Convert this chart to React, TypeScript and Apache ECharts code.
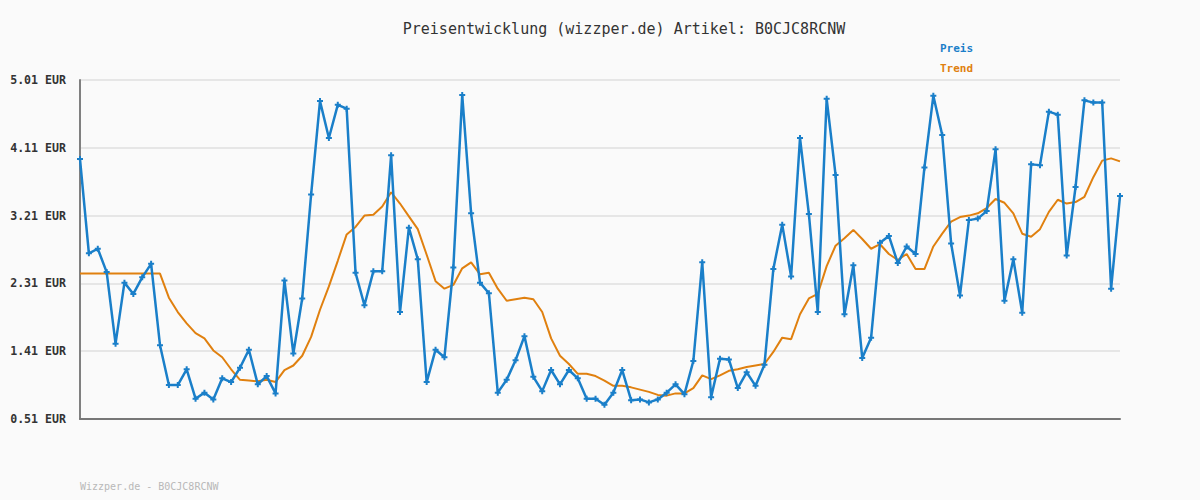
import React, { useEffect, useRef } from "react";
import * as echarts from "echarts";

const preis: number[] = [
  3.96, 2.71, 2.77, 2.46, 1.51, 2.32, 2.17, 2.39, 2.57, 1.49,
  0.96, 0.96, 1.17, 0.78, 0.86, 0.77, 1.05, 1.0, 1.19, 1.43,
  0.97, 1.08, 0.85, 2.35, 1.38, 2.11, 3.49, 4.73, 4.24, 4.68,
  4.63, 2.45, 2.02, 2.47, 2.47, 4.01, 1.93, 3.05, 2.63, 1.0,
  1.43, 1.33, 2.52, 4.81, 3.24, 2.32, 2.18, 0.86, 1.03, 1.29,
  1.61, 1.07, 0.88, 1.16, 0.97, 1.16, 1.05, 0.78, 0.78, 0.7,
  0.86, 1.16, 0.76, 0.77, 0.73, 0.77, 0.86, 0.97, 0.84, 1.28,
  2.59, 0.8, 1.31, 1.3, 0.92, 1.13, 0.95, 1.23, 2.5, 3.09,
  2.4, 4.24, 3.23, 1.93, 4.76, 3.75, 1.9, 2.55, 1.32, 1.59,
  2.85, 2.94, 2.58, 2.8, 2.7, 3.85, 4.8, 4.28, 2.84, 2.15,
  3.15, 3.17, 3.27, 4.09, 2.08, 2.63, 1.92, 3.89, 3.88, 4.59,
  4.55, 2.68, 3.59, 4.74, 4.71, 4.71, 2.24, 3.47,
];

const trend: number[] = [
  2.44, 2.44, 2.44, 2.44, 2.44, 2.44, 2.44, 2.44, 2.44, 2.44,
  2.12, 1.93, 1.78, 1.65, 1.58, 1.42, 1.33, 1.17, 1.03, 1.02,
  1.01, 1.03, 1.0, 1.16, 1.22, 1.35, 1.6, 1.96, 2.27, 2.61,
  2.96, 3.06, 3.21, 3.22, 3.33, 3.52, 3.37, 3.2, 3.03, 2.69,
  2.34, 2.24, 2.29, 2.51, 2.59, 2.43, 2.45, 2.24, 2.08, 2.1,
  2.12, 2.1, 1.93, 1.58, 1.35, 1.24, 1.11, 1.11, 1.08, 1.02,
  0.95, 0.95, 0.93, 0.9, 0.87, 0.83, 0.82, 0.85, 0.85, 0.92,
  1.09, 1.04, 1.09, 1.15, 1.17, 1.2, 1.22, 1.24, 1.4, 1.59,
  1.57, 1.9, 2.11, 2.17, 2.54, 2.81, 2.91, 3.02, 2.9, 2.77,
  2.83, 2.7, 2.62, 2.7, 2.5, 2.5, 2.8, 2.97, 3.13, 3.19,
  3.21, 3.24, 3.31, 3.43, 3.38, 3.24, 2.97, 2.93, 3.03, 3.26,
  3.42, 3.37, 3.39, 3.46, 3.72, 3.94, 3.97, 3.93,
];

const categories: string[] = preis.map((_, i) => String(i + 1));

const tickLabels: string[] = ["0.51 EUR", "1.41 EUR", "2.31 EUR", "3.21 EUR", "4.11 EUR", "5.01 EUR"];
const axisMin = 0.51;
const axisMax = 5.01;
const tickStep = 0.9;

const titleText = "Preisentwicklung (wizzper.de) Artikel: B0CJC8RCNW";
const footerText = "Wizzper.de - B0CJC8RCNW";

const BLUE = "#1a7fc9";
const ORANGE = "#e0800f";
const MONO = "'DejaVu Sans Mono', 'Liberation Mono', monospace";

export default function App() {
  const ref = useRef<HTMLDivElement>(null);

  useEffect(() => {
    document.body.style.margin = "0";
    if (!ref.current) return;
    const chart = echarts.init(ref.current, undefined, { renderer: "svg" });
    chart.setOption({
      animation: false,
      backgroundColor: "#fafafa",
      title: {
        text: titleText,
        left: 619,
        textAlign: "center",
        top: 16,
        textStyle: { fontFamily: MONO, fontSize: 15, fontWeight: "normal", color: "#333" },
      },
      legend: {
        orient: "vertical",
        left: 930,
        top: 38,
        itemGap: 9,
        itemWidth: 0,
        itemHeight: 0,
        icon: "rect",
        textStyle: { fontFamily: MONO, fontSize: 11, fontWeight: "bold" },
        data: [
          { name: "Preis", textStyle: { color: BLUE } },
          { name: "Trend", textStyle: { color: ORANGE } },
        ],
        selectedMode: false,
      },
      grid: { left: 80, right: 80, top: 80, bottom: 81, containLabel: false },
      xAxis: {
        type: "category",
        data: categories,
        boundaryGap: false,
        axisLine: { show: true, lineStyle: { color: "#777", width: 2 } },
        axisTick: { show: false },
        axisLabel: { show: false },
        splitLine: { show: false },
      },
      yAxis: [
        {
          type: "value",
          min: axisMin,
          max: axisMax,
          axisLine: { show: true, lineStyle: { color: "#808080", width: 2 } },
          axisTick: { show: false },
          axisLabel: { show: false },
          splitLine: { show: false },
        },
        {
          type: "value",
          position: "left",
          min: 0,
          max: axisMax - axisMin,
          interval: tickStep,
          axisLine: { show: false },
          axisTick: { show: false },
          axisLabel: {
            show: true,
            margin: 14,
            fontFamily: MONO,
            fontSize: 11.6,
            fontWeight: "bold",
            color: "#333",
            formatter: (v: number) => tickLabels[Math.round(v / tickStep)] ?? "",
          },
          splitLine: { show: true, lineStyle: { color: "#e6e6e6", width: 2 } },
        },
      ],
      series: [
        {
          name: "Preis",
          type: "line",
          yAxisIndex: 0,
          data: preis,
          lineStyle: { color: BLUE, width: 2.5 },
          itemStyle: { color: BLUE },
          symbol: "path://M2 0h2v2h2v2h-2v2h-2v-2h-2v-2h2z",
          symbolSize: 6,
          showSymbol: true,
          showAllSymbol: true,
          z: 3,
        },
        {
          name: "Trend",
          type: "line",
          yAxisIndex: 0,
          data: trend,
          lineStyle: { color: ORANGE, width: 2 },
          itemStyle: { color: ORANGE },
          symbol: "none",
          z: 2,
        },
      ],
      graphic: [
        {
          type: "text",
          left: 80,
          top: 481,
          style: { text: footerText, fill: "#b8b8b8", font: `10px ${MONO}` },
        },
      ],
    });
    return () => chart.dispose();
  }, []);

  return <div ref={ref} style={{ width: 1200, height: 500 }} />;
}
